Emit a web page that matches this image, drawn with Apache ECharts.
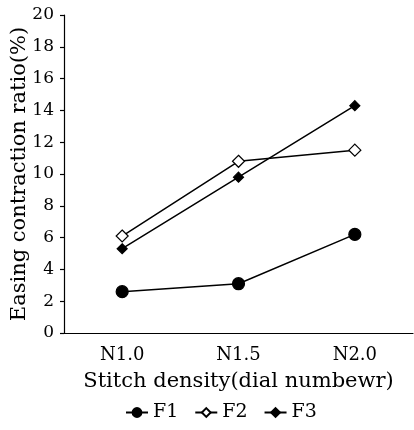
<!DOCTYPE html>
<html>
<head>
<meta charset="utf-8">
<script src="https://cdn.jsdelivr.net/npm/echarts@6/dist/echarts.min.js"></script>
<style>
    html, body { margin: 0; padding: 0; background: #fff; }
    #easingLine { width: 414px; height: 430px; }
</style>
</head>
<body>
<div id="easingLine"></div>
<script>
    // stitch density categories
    let categories = ['N1.0', 'N1.5', 'N2.0'];
    let f1Data = [2.6, 3.1, 6.2];
    let f2Data = [6.1, 10.8, 11.5];
    let f3Data = [5.3, 9.8, 14.3];

    let serif = '"DejaVu Serif", "Liberation Serif", serif';
    let myChart = echarts.init(document.getElementById('easingLine'));

    function makeSeries(name, data, symbol, size, fill) {
        return {
            name: name,
            type: 'line',
            data: data,
            symbol: symbol,
            symbolSize: size,
            showSymbol: true,
            lineStyle: {color: '#000', width: 1.5},
            itemStyle: {color: fill, borderColor: '#000', borderWidth: 1.2}
        };
    }

    let option = {
        animation: false,
        grid: {left: 64, right: 1, top: 15, bottom: 97, containLabel: false, outerBoundsMode: 'none'},
        legend: {
            data: ['F1', 'F2', 'F3'],
            left: 120,
            top: 398,
            itemWidth: 22,
            itemHeight: 11,
            itemGap: 16,
            textStyle: {color: '#000', fontFamily: serif, fontSize: 19}
        },
        xAxis: {
            type: 'category',
            data: categories,
            boundaryGap: true,
            name: 'Stitch density(dial numbewr)',
            nameLocation: 'middle',
            nameGap: 38,
            nameMoveOverlap: false,
            nameTextStyle: {color: '#000', fontFamily: serif, fontSize: 21},
            axisLine: {lineStyle: {color: '#000', width: 1.2}},
            axisTick: {length: 9, lineStyle: {color: '#000', width: 1.2}},
            axisLabel: {color: '#000', fontFamily: serif, fontSize: 18, margin: 13}
        },
        yAxis: {
            type: 'value',
            min: 0,
            max: 20,
            interval: 2,
            name: 'Easing contraction ratio(%)',
            nameLocation: 'middle',
            nameGap: 34,
            nameMoveOverlap: false,
            nameTextStyle: {color: '#000', fontFamily: serif, fontSize: 21},
            splitLine: {show: false},
            axisLine: {show: true, lineStyle: {color: '#000', width: 1.2}},
            axisTick: {show: true, length: 4, lineStyle: {color: '#000', width: 1.2}},
            axisLabel: {color: '#000', fontFamily: serif, fontSize: 17, margin: 10}
        },
        series: [
            makeSeries('F1', f1Data, 'circle', 12, '#000'),
            makeSeries('F2', f2Data, 'diamond', 12, '#fff'),
            makeSeries('F3', f3Data, 'diamond', 10, '#000')
        ]
    };

    myChart.setOption(option);
</script>
</body>
</html>
